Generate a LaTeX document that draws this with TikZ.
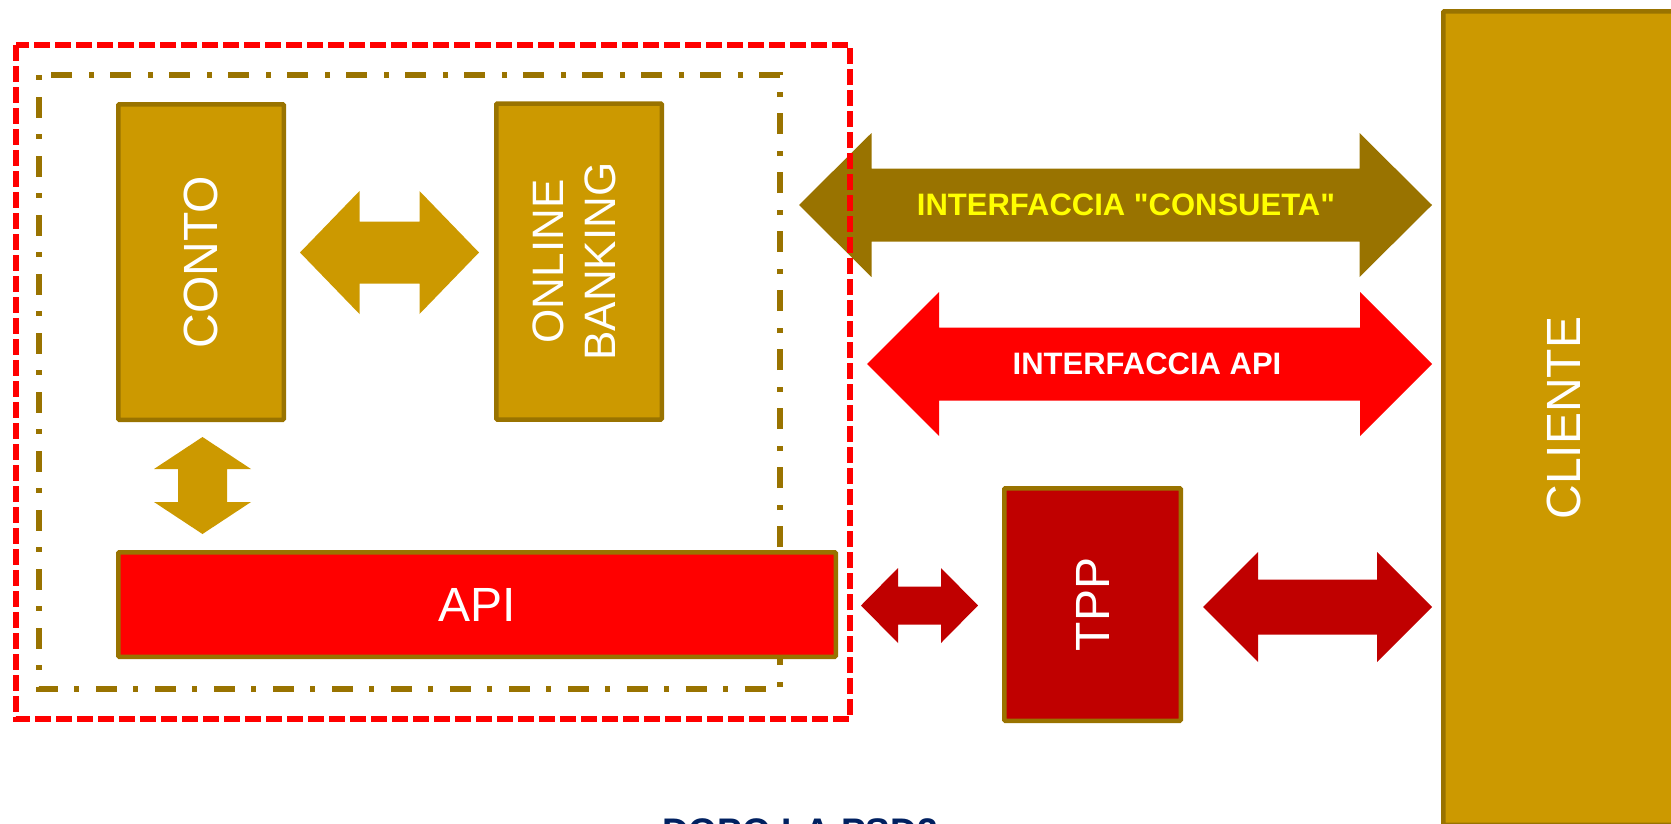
\documentclass[tikz,border=0pt]{standalone}
\usepackage{fontspec}
\setmainfont{Liberation Sans}[Ligatures=TeXOff]
\definecolor{oro}{HTML}{CC9900}
\definecolor{orosc}{HTML}{997300}
\definecolor{rosso}{HTML}{FF0000}
\definecolor{rossosc}{HTML}{C00000}
\definecolor{giallo}{HTML}{FFFF00}
\definecolor{blu}{HTML}{002060}
% freccia doppia orizzontale: colore, x1, x2, y, gambo, testa, lunghezza testa
\newcommand{\frecciah}[7]{\fill[#1] (#2,#4) -- (#2+#7,#4-#6) -- (#2+#7,#4-#5) -- (#3-#7,#4-#5) -- (#3-#7,#4-#6) -- (#3,#4) -- (#3-#7,#4+#6) -- (#3-#7,#4+#5) -- (#2+#7,#4+#5) -- (#2+#7,#4+#6) -- cycle;}
% freccia doppia verticale: colore, x, y1, y2, gambo, testa, lunghezza testa
\newcommand{\frecciav}[7]{\fill[#1] (#2,#3) -- (#2+#6,#3+#7) -- (#2+#5,#3+#7) -- (#2+#5,#4-#7) -- (#2+#6,#4-#7) -- (#2,#4) -- (#2-#6,#4-#7) -- (#2-#5,#4-#7) -- (#2-#5,#3+#7) -- (#2-#6,#3+#7) -- cycle;}
\begin{document}
\begin{tikzpicture}[x=1pt,y=-1pt,
  box/.style={draw=orosc,line width=4.5,rounded corners=1,inner sep=0,text=white,font=\fontsize{48}{52}\selectfont},
  lbl/.style={inner sep=0,font=\bfseries\fontsize{31}{34}\selectfont}]
\useasboundingbox (0,0) rectangle (1671,823);
\draw[orosc,line width=5.5,dash pattern=on 5 off 17 on 21 off 16] (39,75) rectangle (780,689);
\draw (201,262) node[box,fill=oro,minimum width=165.5,minimum height=315.5] (conto) {\rotatebox{90}{CONTO}};
\draw (579,261.5) node[box,fill=oro,minimum width=165.5,minimum height=316,font=\fontsize{44}{52}\selectfont] (online) {\rotatebox{90}{\begin{tabular}{@{}c@{}}ONLINE\\BANKING\end{tabular}}};
\draw (477,604.5) node[box,fill=rosso,minimum width=717.5,minimum height=104.5] (api) {API};
\draw (1092.5,604.5) node[box,fill=rossosc,minimum width=176.5,minimum height=232.5] (tpp) {\rotatebox{90}{TPP}};
\draw (1564,418) node[box,fill=oro,minimum width=241.5,minimum height=813.5] (cliente) {\rotatebox{90}{CLIENTE}};
\frecciah{oro}{300}{479}{252.5}{31}{61.5}{59.5}
\frecciav{oro}{202.5}{437}{534}{24.5}{48.5}{32}
\frecciah{orosc}{799}{1432}{205}{36.5}{72}{72.5}
\frecciah{rosso}{867}{1432}{364}{36.5}{72}{72}
\frecciah{rossosc}{861}{978}{605.5}{19}{37.5}{37}
\frecciah{rossosc}{1203}{1432}{607}{27.5}{55}{55}
\draw (1126,205) node[lbl,text=giallo] (consueta) {INTERFACCIA "CONSUETA"};
\draw (1147,364) node[lbl,text=white] (interfaccia) {INTERFACCIA API};
\draw[rosso,line width=5.5,dash pattern=on 16 off 5] (16,45) rectangle (850,719);
\draw (800,844) node[anchor=base,inner sep=0,text=blu,font=\bfseries\fontsize{37}{40}\selectfont] (titolo) {DOPO LA PSD2};
\end{tikzpicture}
\end{document}
